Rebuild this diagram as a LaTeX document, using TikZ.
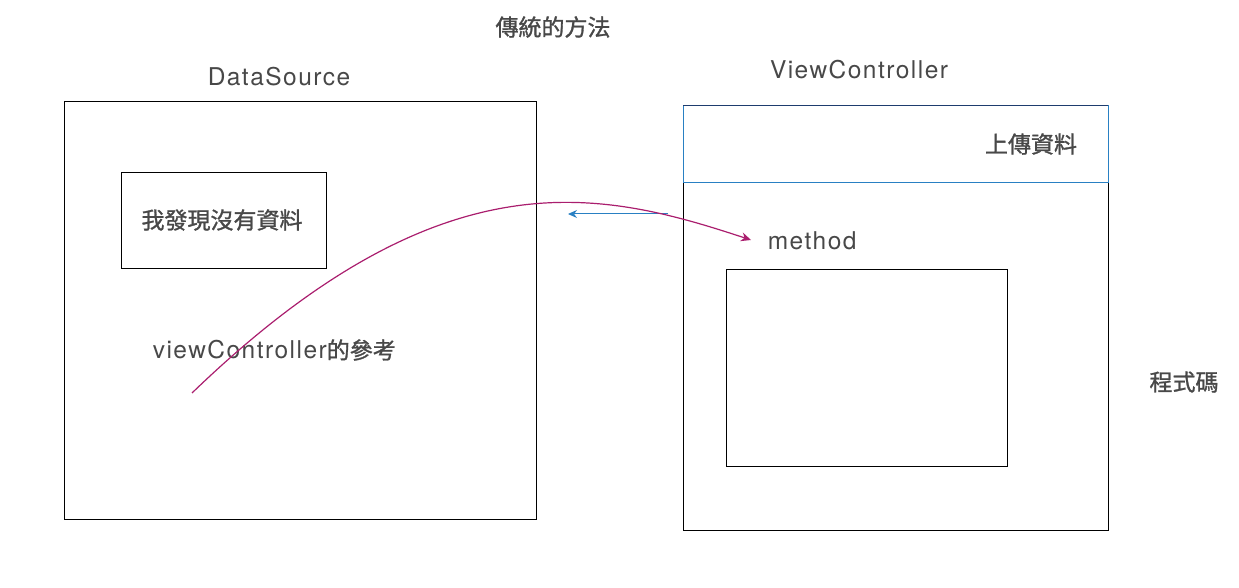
\documentclass[tikz,border=0pt]{standalone}
\usepackage{fontspec}
\setmainfont{TeX Gyre Heros}[LetterSpace=6]
\newfontfamily\cjk{Noto Sans CJK TC}[FakeBold=1.2]
\usepackage{xcolor}
\definecolor{textgrau}{RGB}{72,72,72}
\definecolor{blau}{RGB}{41,128,195}
\definecolor{dunkelblau}{RGB}{30,60,110}
\definecolor{magenta}{RGB}{170,30,110}
\usetikzlibrary{arrows.meta}

\begin{document}
\begin{tikzpicture}[x=1pt, y=-1pt, line width=1pt, every node/.style={text=textgrau, font=\fontsize{24.5}{28}\selectfont}]
        % Rahmen
        \useasboundingbox (0,0) rectangle (1239,588);

        % Titel
        \node (titel) at (553,27) {\fontsize{23}{27}\cjk 傳統的方法};

        % DataSource
        \node (dsname) at (279,77) {DataSource};
        \draw[black] (64,102) rectangle (536,519);
        \draw[black] (121,173) rectangle (326,268);
        \node (leer) at (222,220) {\fontsize{23}{27}\cjk 我發現沒有資料};
        \node[anchor=west] (ref) at (149,350) {viewController{\fontsize{23}{27}\cjk 的參考}};

        % ViewController
        \node (vcname) at (859,70) {ViewController};
        \draw[black] (683,183) rectangle (1108,530);
        \draw[blau] (683,106) rectangle (1108,183);
        \draw[dunkelblau] (683,106) -- (1108,106);
        \node (upload) at (1031,144) {\fontsize{23}{27}\cjk 上傳資料};
        \node[anchor=west] (method) at (764,241) {method};
        \draw[black] (726,269) rectangle (1007,466);
        \node (code) at (1184,382) {\fontsize{23}{27}\cjk 程式碼};

        % Pfeile
        \coordinate (rufA) at (668,214);
        \coordinate (rufB) at (568,214);
        \draw[blau, -{Stealth[length=9pt, width=8pt]}] (rufA) -- (rufB);

        \coordinate (kurveA) at (192,393);
        \coordinate (kurveB) at (751,240);
        \draw[magenta, line width=1.2pt, -{Stealth[length=10pt, width=9pt]}] (kurveA) .. controls (442,152) and (600,190) .. (kurveB);
    \end{tikzpicture}
\end{document}
